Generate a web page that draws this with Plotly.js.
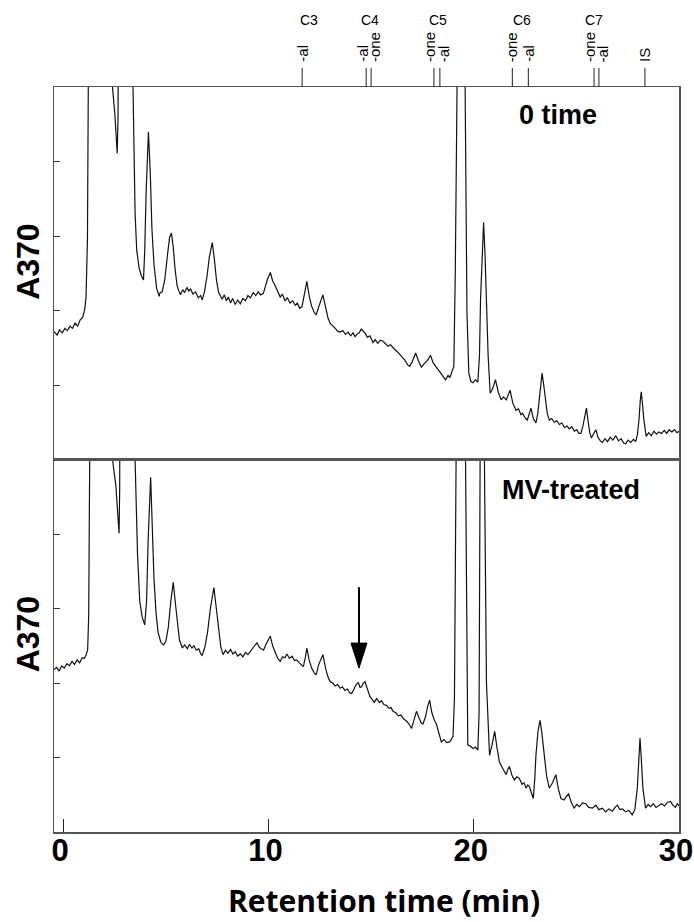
<!DOCTYPE html>
<html>
<head>
<meta charset="utf-8">
<script src="https://cdn.plot.ly/plotly-3.0.1.min.js"></script>
<style>html,body{margin:0;padding:0;background:#fff}#chart{width:694px;height:922px}</style>
</head>
<body>
<div id="chart"></div>
<script>
// Chromatogram: [retention time (min), A370]
const zeroTimeTrace = [
[-0.45,1.72],[-0.30,1.67],[-0.18,1.74],[-0.05,1.70],[0.08,1.76],[0.20,1.73],[0.33,1.79],[0.45,1.76],[0.58,1.83],[0.70,1.79],
[0.82,1.87],[0.95,1.91],[1.05,2.02],[1.11,2.18],[1.18,2.95],[1.24,5.0],[1.30,9.0],[2.30,9.0],[2.40,5.0],[2.51,4.65],
[2.63,4.11],[2.67,4.6],[2.72,9.0],[3.35,9.0],[3.40,5.0],[3.50,3.31],[3.58,2.81],[3.69,2.58],[3.80,2.47],[3.91,2.41],
[3.97,2.80],[4.04,3.60],[4.15,4.40],[4.24,3.85],[4.32,3.10],[4.42,2.62],[4.55,2.30],[4.67,2.19],[4.72,2.24],[4.82,2.25],
[4.95,2.42],[5.08,2.75],[5.18,2.98],[5.27,3.04],[5.36,2.85],[5.45,2.55],[5.55,2.33],[5.62,2.27],[5.71,2.21],[5.82,2.28],
[5.92,2.24],[6.02,2.31],[6.12,2.26],[6.20,2.29],[6.32,2.22],[6.45,2.25],[6.58,2.17],[6.70,2.20],[6.77,2.14],[6.88,2.25],
[7.00,2.45],[7.12,2.72],[7.26,2.91],[7.36,2.70],[7.46,2.42],[7.56,2.25],[7.66,2.20],[7.74,2.15],[7.85,2.21],[7.95,2.13],
[8.05,2.18],[8.15,2.10],[8.25,2.16],[8.38,2.08],[8.50,2.14],[8.63,2.09],[8.75,2.16],[8.88,2.13],[9.00,2.20],[9.12,2.17],
[9.26,2.24],[9.38,2.20],[9.50,2.25],[9.62,2.21],[9.75,2.23],[9.85,2.33],[9.95,2.42],[10.09,2.51],[10.20,2.40],[10.33,2.33],
[10.45,2.25],[10.57,2.18],[10.68,2.22],[10.80,2.13],[10.92,2.17],[11.05,2.10],[11.18,2.13],[11.30,2.07],[11.40,2.10],[11.52,2.03],
[11.63,2.05],[11.75,2.20],[11.87,2.39],[11.98,2.20],[12.10,2.06],[12.22,1.98],[12.32,1.94],[12.45,2.05],[12.55,2.13],[12.65,2.21],
[12.78,2.05],[12.90,1.90],[13.00,1.83],[13.12,1.79],[13.25,1.76],[13.38,1.72],[13.49,1.71],[13.62,1.73],[13.75,1.68],[13.88,1.71],
[14.00,1.66],[14.12,1.70],[14.22,1.65],[14.30,1.68],[14.42,1.70],[14.52,1.75],[14.60,1.73],[14.72,1.69],[14.82,1.64],[14.94,1.66],
[15.09,1.57],[15.20,1.61],[15.32,1.56],[15.45,1.60],[15.57,1.59],[15.70,1.55],[15.82,1.52],[15.94,1.54],[16.06,1.50],[16.18,1.47],
[16.30,1.44],[16.42,1.40],[16.54,1.37],[16.65,1.33],[16.78,1.27],[16.88,1.25],[17.00,1.31],[17.17,1.43],[17.30,1.33],[17.45,1.24],
[17.60,1.29],[17.75,1.33],[17.89,1.40],[18.02,1.30],[18.15,1.25],[18.25,1.21],[18.34,1.19],[18.46,1.14],[18.55,1.10],[18.63,1.07],
[18.75,1.13],[18.84,1.10],[18.91,1.16],[19.03,1.25],[19.10,2.5],[19.17,5.0],[19.25,14.0],[19.50,14.0],[19.58,5.0],[19.67,1.97],
[19.76,1.16],[19.86,1.05],[19.96,1.03],[20.08,1.07],[20.20,1.04],[20.28,1.40],[20.33,2.14],[20.41,2.80],[20.48,3.18],[20.55,2.75],
[20.62,2.14],[20.70,1.40],[20.80,0.89],[20.92,0.95],[21.06,1.07],[21.20,0.90],[21.34,0.80],[21.45,0.84],[21.58,0.80],[21.68,0.86],
[21.77,0.93],[21.90,0.76],[22.06,0.66],[22.18,0.68],[22.30,0.60],[22.38,0.62],[22.50,0.56],[22.61,0.53],[22.72,0.62],[22.79,0.69],
[22.90,0.55],[23.03,0.49],[23.12,0.62],[23.19,0.80],[23.26,1.02],[23.33,1.16],[23.42,0.98],[23.49,0.80],[23.58,0.62],[23.68,0.53],
[23.80,0.55],[23.92,0.50],[24.05,0.52],[24.17,0.47],[24.30,0.49],[24.42,0.43],[24.55,0.45],[24.65,0.41],[24.78,0.44],[24.90,0.38],
[25.02,0.40],[25.12,0.35],[25.22,0.35],[25.32,0.45],[25.42,0.60],[25.49,0.69],[25.58,0.50],[25.66,0.35],[25.73,0.29],[25.85,0.35],
[25.95,0.40],[26.05,0.30],[26.17,0.25],[26.27,0.23],[26.40,0.28],[26.52,0.24],[26.65,0.30],[26.78,0.26],[26.92,0.32],[27.05,0.25],
[27.18,0.28],[27.30,0.22],[27.40,0.21],[27.52,0.26],[27.65,0.23],[27.78,0.27],[27.89,0.24],[27.97,0.33],[28.05,0.53],[28.11,0.78],
[28.16,0.91],[28.22,0.75],[28.29,0.53],[28.40,0.31],[28.52,0.36],[28.65,0.32],[28.78,0.38],[28.90,0.34],[29.02,0.37],[29.15,0.35],
[29.28,0.39],[29.40,0.35],[29.52,0.40],[29.65,0.37],[29.78,0.40],[29.90,0.36],[30.00,0.38]
];

const mvTreatedTrace = [
[-0.45,2.18],[-0.32,2.21],[-0.20,2.16],[-0.08,2.23],[0.05,2.20],[0.18,2.26],[0.30,2.23],[0.43,2.29],[0.55,2.25],[0.68,2.31],
[0.80,2.27],[0.92,2.34],[1.02,2.33],[1.12,2.38],[1.19,2.45],[1.24,2.9],[1.29,5.0],[1.34,9.0],[2.30,9.0],[2.40,5.0],
[2.56,4.66],[2.72,4.01],[2.75,4.6],[2.79,9.0],[3.45,9.0],[3.50,5.0],[3.62,3.72],[3.73,3.09],[3.85,2.88],[3.97,2.78],
[4.06,3.10],[4.14,3.95],[4.26,4.76],[4.34,4.10],[4.42,3.40],[4.52,2.95],[4.62,2.68],[4.75,2.55],[4.88,2.51],[5.00,2.56],
[5.12,2.75],[5.25,3.12],[5.36,3.35],[5.46,3.08],[5.56,2.78],[5.66,2.58],[5.80,2.47],[5.92,2.51],[6.05,2.46],[6.15,2.52],
[6.27,2.47],[6.37,2.50],[6.48,2.44],[6.60,2.46],[6.70,2.39],[6.77,2.37],[6.90,2.48],[7.03,2.68],[7.18,3.02],[7.34,3.28],
[7.45,3.02],[7.56,2.72],[7.68,2.48],[7.79,2.38],[7.90,2.44],[8.02,2.40],[8.15,2.45],[8.27,2.39],[8.38,2.42],[8.50,2.36],
[8.63,2.39],[8.75,2.35],[8.88,2.41],[9.00,2.38],[9.12,2.43],[9.25,2.48],[9.35,2.51],[9.44,2.54],[9.55,2.48],[9.65,2.46],
[9.76,2.44],[9.88,2.52],[10.00,2.58],[10.09,2.63],[10.20,2.50],[10.32,2.42],[10.45,2.33],[10.57,2.29],[10.68,2.35],[10.80,2.34],
[10.90,2.39],[11.02,2.33],[11.15,2.36],[11.27,2.30],[11.38,2.31],[11.50,2.27],[11.60,2.24],[11.70,2.22],[11.80,2.35],[11.87,2.47],
[11.97,2.32],[12.10,2.20],[12.22,2.14],[12.32,2.11],[12.45,2.25],[12.55,2.33],[12.65,2.38],[12.78,2.20],[12.90,2.08],[13.00,2.02],
[13.12,2.00],[13.25,1.96],[13.37,1.98],[13.49,1.93],[13.60,1.95],[13.72,1.90],[13.85,1.92],[13.95,1.87],[14.05,1.86],[14.15,1.91],
[14.25,1.97],[14.37,2.01],[14.46,1.94],[14.54,1.95],[14.62,2.00],[14.70,2.02],[14.80,1.94],[14.94,1.82],[15.05,1.78],[15.15,1.74],
[15.27,1.79],[15.40,1.74],[15.51,1.76],[15.62,1.71],[15.75,1.70],[15.87,1.66],[15.97,1.67],[16.07,1.62],[16.20,1.60],[16.33,1.56],
[16.45,1.57],[16.58,1.52],[16.72,1.49],[16.85,1.45],[16.97,1.39],[17.08,1.50],[17.21,1.62],[17.32,1.54],[17.45,1.46],[17.53,1.45],
[17.65,1.55],[17.75,1.68],[17.85,1.77],[17.96,1.60],[18.08,1.50],[18.18,1.45],[18.30,1.32],[18.42,1.21],[18.55,1.24],[18.68,1.20],
[18.83,1.21],[18.99,1.28],[19.06,1.8],[19.10,3.0],[19.14,5.0],[19.22,14.0],[19.50,14.0],[19.60,5.0],[19.66,2.0],[19.71,1.17],
[19.84,1.15],[19.96,1.12],[20.08,1.14],[20.20,1.10],[20.26,1.6],[20.31,5.0],[20.38,14.0],[20.45,14.0],[20.52,5.0],[20.62,2.0],
[20.77,1.03],[20.90,1.18],[21.02,1.35],[21.14,1.12],[21.25,0.94],[21.40,0.86],[21.58,0.77],[21.66,0.84],[21.74,0.88],[21.86,0.76],
[21.98,0.70],[22.10,0.74],[22.22,0.72],[22.35,0.64],[22.45,0.66],[22.55,0.59],[22.63,0.63],[22.71,0.61],[22.80,0.52],[22.90,0.45],
[22.97,0.70],[23.03,1.03],[23.13,1.35],[23.23,1.50],[23.33,1.30],[23.44,1.03],[23.55,0.75],[23.68,0.59],[23.84,0.66],[24.00,0.77],
[24.12,0.58],[24.25,0.45],[24.40,0.43],[24.52,0.48],[24.62,0.51],[24.75,0.40],[24.89,0.32],[25.02,0.37],[25.15,0.34],[25.30,0.39],
[25.46,0.38],[25.60,0.33],[25.78,0.32],[25.95,0.36],[26.10,0.30],[26.27,0.32],[26.43,0.27],[26.58,0.31],[26.75,0.28],[26.88,0.33],
[27.00,0.36],[27.12,0.30],[27.25,0.31],[27.40,0.27],[27.55,0.29],[27.72,0.23],[27.85,0.30],[27.97,0.59],[28.04,0.95],[28.10,1.26],
[28.17,0.95],[28.24,0.59],[28.37,0.32],[28.50,0.37],[28.62,0.34],[28.75,0.38],[28.88,0.33],[29.02,0.36],[29.15,0.38],[29.30,0.35],
[29.45,0.40],[29.59,0.41],[29.70,0.36],[29.82,0.33],[29.92,0.38],[30.00,0.35]
];

const xTickVals = [0, 10, 20, 30];
const xTickText = ['0', '10', '20', '30'];
const yTickVals = [1, 2, 3, 4];

const markerTimes = [11.64, 14.76, 15.00, 18.06, 18.35, 21.88, 22.66, 25.86, 26.10, 28.34];
const markerLabels = ['-al', '-al', '-one', '-one', '-al', '-one', '-al', '-one', '-al', 'IS'];
const groupTimes = [11.98, 14.94, 18.24, 22.37, 25.86];
const groupLabels = ['C3', 'C4', 'C5', 'C6', 'C7'];

const panelLabels = ['0 time', 'MV-treated'];
const yLabel = 'A370';
const xLabel = 'Retention time (min)';
const arrowAt = [14.41, 2.20]; // MV-treated panel

const ink = '#111111';
const axisColor = '#555555';

const traces = [
  {x: zeroTimeTrace.map(p => p[0]), y: zeroTimeTrace.map(p => p[1]), xaxis: 'x2', yaxis: 'y2',
   type: 'scatter', mode: 'lines', line: {color: ink, width: 1.2}, hoverinfo: 'skip'},
  {x: mvTreatedTrace.map(p => p[0]), y: mvTreatedTrace.map(p => p[1]), xaxis: 'x', yaxis: 'y',
   type: 'scatter', mode: 'lines', line: {color: ink, width: 1.2}, hoverinfo: 'skip'}
];

const arial = 'Liberation Sans, Arial, sans-serif';
const boldArial = (size) => ({family: arial, size: size, color: '#000', weight: 'bold'});

const axisCommon = {
  showgrid: false, zeroline: false, showline: true, mirror: true,
  linecolor: axisColor, linewidth: 1.5
};

const shapes = [];
const annotations = [];
markerTimes.forEach((t, i) => {
  shapes.push({type: 'line', xref: 'x2', yref: 'paper', x0: t, x1: t, y0: 1.0, y1: 1.0255,
               line: {color: '#222', width: 1}});
  // paired markers: left label sits left of its line, right label right of it
  const near = 0.5;
  let shift = 0;
  if (i + 1 < markerTimes.length && markerTimes[i + 1] - t < near) shift = -4;
  else if (i > 0 && t - markerTimes[i - 1] < near) shift = 4;
  annotations.push({xref: 'x2', yref: 'paper', x: t, y: 1.0309, yanchor: 'bottom', xanchor: 'center',
                    xshift: shift, text: markerLabels[i], textangle: -90, showarrow: false,
                    font: {family: arial, size: 15, color: '#000'}});
});
groupTimes.forEach((t, i) => {
  annotations.push({xref: 'x2', yref: 'paper', x: t, y: 1.0899, yanchor: 'middle', xanchor: 'center',
                    text: groupLabels[i], showarrow: false,
                    font: {family: arial, size: 14, color: '#000'}});
});
annotations.push({xref: 'paper', yref: 'paper', x: 0.806, y: 0.9624, text: panelLabels[0], showarrow: false,
                  xanchor: 'center', yanchor: 'middle', font: boldArial(27)});
annotations.push({xref: 'paper', yref: 'paper', x: 0.8275, y: 0.459, text: panelLabels[1], showarrow: false,
                  xanchor: 'center', yanchor: 'middle', font: boldArial(27)});
annotations.push({xref: 'paper', yref: 'paper', x: -0.041, y: 0.7658, text: yLabel, textangle: -90, showarrow: false,
                  xanchor: 'center', yanchor: 'middle', font: boldArial(32)});
annotations.push({xref: 'paper', yref: 'paper', x: -0.041, y: 0.2658, text: yLabel, textangle: -90, showarrow: false,
                  xanchor: 'center', yanchor: 'middle', font: boldArial(32)});
// x-axis title
annotations.push({xref: 'paper', yref: 'paper', x: 0.528, y: -0.0926, text: xLabel, showarrow: false,
                  xanchor: 'center', yanchor: 'middle',
                  font: {family: 'Open Sans, sans-serif', size: 30, color: '#000', weight: 'bold'}});

// arrow marking the new peak in the MV-treated trace
shapes.push({type: 'line', xref: 'x', yref: 'y', xsizemode: 'pixel', ysizemode: 'pixel',
             xanchor: arrowAt[0], yanchor: arrowAt[1], x0: 0, x1: 0, y0: 20, y1: 81,
             line: {color: '#000', width: 2}});
shapes.push({type: 'path', xref: 'x', yref: 'y', xsizemode: 'pixel', ysizemode: 'pixel',
             xanchor: arrowAt[0], yanchor: arrowAt[1], path: 'M-8,25 L8,25 L0,0 Z',
             fillcolor: '#000', line: {color: '#000', width: 1}});

const layout = {
  width: 694, height: 922,
  margin: {l: 54, r: 15, t: 87, b: 90},
  paper_bgcolor: '#fff', plot_bgcolor: '#fff',
  showlegend: false,
  xaxis: Object.assign({}, axisCommon, {
    anchor: 'y', domain: [0, 1], range: [-0.45, 30],
    tickvals: xTickVals, ticktext: xTickText, ticks: 'inside', ticklen: 13, tickwidth: 1, tickcolor: '#222',
    tickfont: boldArial(31), ticklabelstandoff: -10, ticklabelshift: -3
  }),
  yaxis: Object.assign({}, axisCommon, {
    anchor: 'x', domain: [0, 0.5], range: [0, 5],
    tickvals: yTickVals, ticks: 'inside', ticklen: 6, tickwidth: 1, tickcolor: '#333', showticklabels: false
  }),
  xaxis2: Object.assign({}, axisCommon, {
    anchor: 'y2', domain: [0, 1], range: [-0.45, 30], matches: 'x',
    ticks: '', showticklabels: false
  }),
  yaxis2: Object.assign({}, axisCommon, {
    anchor: 'x2', domain: [0.5, 1], range: [0, 5],
    tickvals: yTickVals, ticks: 'inside', ticklen: 6, tickwidth: 1, tickcolor: '#333', showticklabels: false
  }),
  shapes: shapes,
  annotations: annotations
};

Plotly.newPlot('chart', traces, layout, {displayModeBar: false, staticPlot: true});
</script>
</body>
</html>
